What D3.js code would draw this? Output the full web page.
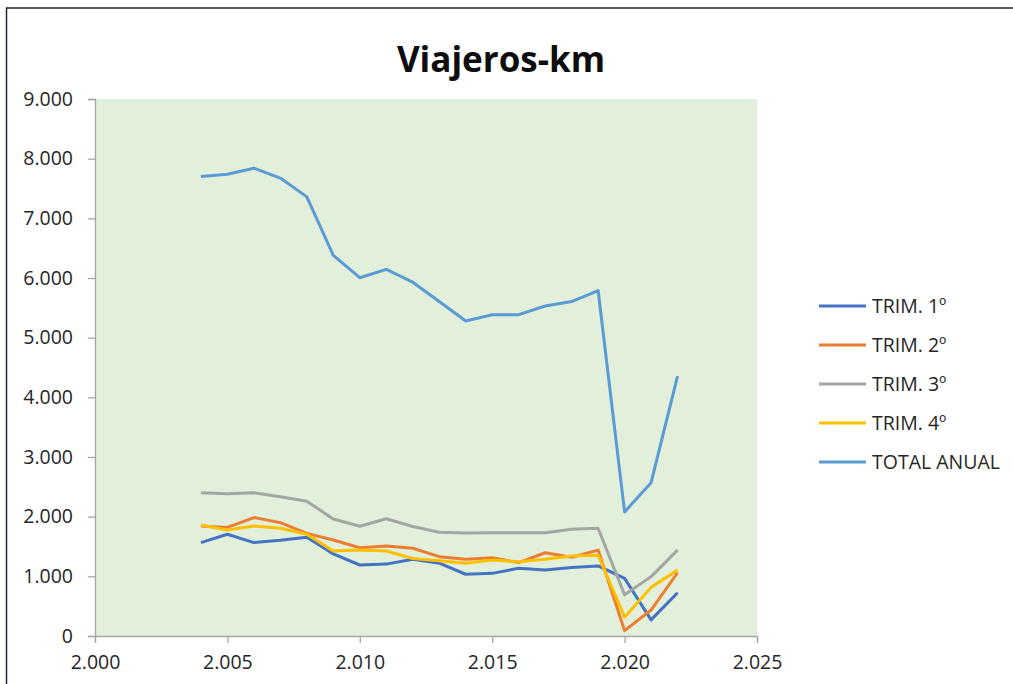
<!DOCTYPE html>
<html>
<head>
<meta charset="utf-8">
<script src="https://cdn.jsdelivr.net/npm/d3@7"></script>
<style>
	body { margin: 0; background: #fff; }
	text { font-family: "Open Sans", sans-serif; }
</style>
</head>
<body>
<script>
var years = [2004, 2005, 2006, 2007, 2008, 2009, 2010, 2011, 2012, 2013, 2014, 2015, 2016, 2017, 2018, 2019, 2020, 2021, 2022];

var trim1 = [1565, 1705, 1565, 1605, 1655, 1375, 1190, 1205, 1285, 1220, 1035, 1050, 1135, 1105, 1150, 1175, 965, 270, 725];
var trim2 = [1845, 1820, 1985, 1900, 1720, 1610, 1480, 1510, 1470, 1330, 1285, 1310, 1230, 1395, 1320, 1440, 90, 435, 1060];
var trim3 = [2400, 2385, 2400, 2335, 2260, 1960, 1840, 1965, 1835, 1740, 1725, 1730, 1730, 1730, 1790, 1805, 690, 995, 1440];
var trim4 = [1860, 1775, 1845, 1805, 1705, 1425, 1440, 1425, 1300, 1262, 1218, 1275, 1245, 1285, 1340, 1355, 315, 815, 1105];
var totalAnual = [7700, 7740, 7840, 7675, 7360, 6380, 6005, 6145, 5930, 5605, 5280, 5385, 5385, 5530, 5605, 5790, 2080, 2570, 4355];

var seriesNames = ["TRIM. 1º", "TRIM. 2º", "TRIM. 3º", "TRIM. 4º", "TOTAL ANUAL"];
var seriesColors = ["#4472C4", "#ED7D31", "#A5A5A5", "#FFC000", "#5B9BD5"];
var xTicks = [2000, 2005, 2010, 2015, 2020, 2025];
var yTicks = [0, 1000, 2000, 3000, 4000, 5000, 6000, 7000, 8000, 9000];

var allSeries = [trim1, trim2, trim3, trim4, totalAnual];

var w = 1013;
var h = 684;

var svg = d3.select("body")
			.append("svg")
			.attr("width", w)
			.attr("height", h);

// chart frame
svg.append("rect")
	.attr("x", 6.5)
	.attr("y", 8)
	.attr("width", w + 10)
	.attr("height", h + 10)
	.attr("fill", "#fff")
	.attr("stroke", "#1f2430")
	.attr("stroke-width", 1.5);

var x = d3.scaleLinear().domain([2000, 2025]).range([95, 757]);
var y = d3.scaleLinear().domain([0, 9000]).range([636, 99]);

var fmt = function(v){
	return d3.format(",.0f")(v).replace(/,/g, ".");
};

svg.append("rect")
	.attr("x", x(2000))
	.attr("y", y(9000))
	.attr("width", x(2025) - x(2000))
	.attr("height", y(0) - y(9000))
	.attr("fill", "#E2EFDA");

var yAxis = svg.append("g")
	.attr("transform", "translate(" + x(2000) + ",0)")
	.call(d3.axisLeft(y).tickValues(yTicks).tickFormat(fmt).tickSize(7).tickPadding(15));

var xAxis = svg.append("g")
	.attr("transform", "translate(0," + y(0) + ")")
	.call(d3.axisBottom(x).tickValues(xTicks).tickFormat(fmt).tickSize(7).tickPadding(12));

[yAxis, xAxis].forEach(function(a){
	a.select(".domain").attr("stroke", "#a6a6a6").attr("stroke-width", 1.3);
	a.selectAll(".tick line").attr("stroke", "#a6a6a6").attr("stroke-width", 1.3);
	a.selectAll(".tick text")
		.attr("fill", "#262626")
		.style("font-size", "19.5px")
		.style("font-family", "'Open Sans', sans-serif");
});

var line = d3.line()
	.x(function(d, i){ return x(years[i]); })
	.y(function(d){ return y(d); });

svg.selectAll("path.series")
	.data(allSeries)
	.enter()
	.append("path")
	.attr("class", "series")
	.attr("d", line)
	.attr("fill", "none")
	.attr("stroke", function(d, i){ return seriesColors[i]; })
	.attr("stroke-width", 3)
	.attr("stroke-linejoin", "round");

svg.append("text")
	.attr("x", 501)
	.attr("y", 72)
	.attr("text-anchor", "middle")
	.attr("font-weight", "bold")
	.attr("fill", "#0d0d0d")
	.style("font-size", "35px")
	.text("Viajeros-km");

var legend = svg.selectAll("g.legend")
	.data(seriesNames)
	.enter()
	.append("g")
	.attr("class", "legend")
	.attr("transform", function(d, i){ return "translate(819," + (306 + i * 39) + ")"; });

legend.append("line")
	.attr("x1", 0)
	.attr("x2", 47)
	.attr("stroke", function(d, i){ return seriesColors[i]; })
	.attr("stroke-width", 3);

legend.append("text")
	.attr("x", 53)
	.attr("y", 7)
	.attr("fill", "#262626")
	.style("font-size", "19.5px")
	.text(function(d){ return d; });
</script>
</body>
</html>
